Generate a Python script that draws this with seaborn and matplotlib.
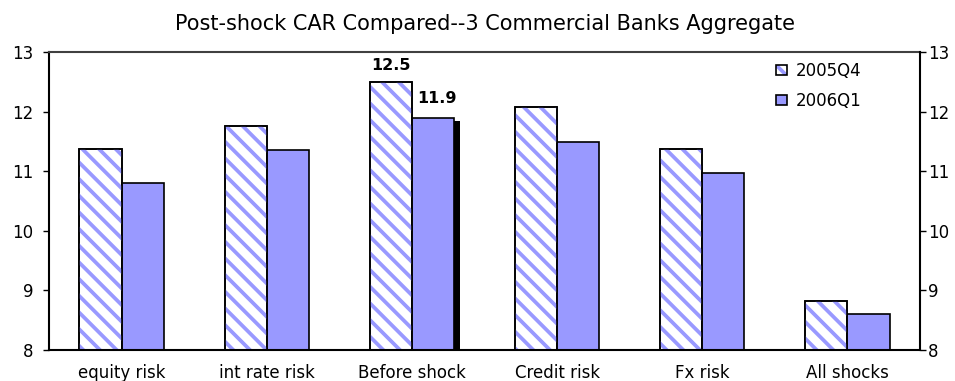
import matplotlib
matplotlib.use("Agg")
import matplotlib.pyplot as plt
import pandas as pd
import seaborn as sns
from matplotlib.patches import Rectangle, Patch
from matplotlib import patheffects as pe
from matplotlib.legend_handler import HandlerTuple

# Capital adequacy ratio after each shock, two quarters
categories = ["equity risk", "int rate risk", "Before shock", "Credit risk", "Fx risk", "All shocks"]
car_2005q4 = [11.37, 11.75, 12.5, 12.07, 11.37, 8.83]
car_2006q1 = [10.80, 11.35, 11.9, 11.49, 10.97, 8.60]
series = ["2005Q4", "2006Q1"]
y_ticks = [8, 9, 10, 11, 12, 13]
labelled_category = "Before shock"
title = "Post-shock CAR Compared--3 Commercial Banks Aggregate"

HATCH = "#9999FF"
SOLID = "#9999FF"

sns.set_theme(style="white")
plt.rcParams["font.family"] = ["DejaVu Sans"]
plt.rcParams["hatch.linewidth"] = 2.7
plt.rcParams["text.color"] = "black"
plt.rcParams["xtick.color"] = "black"
plt.rcParams["ytick.color"] = "black"

df = pd.DataFrame({
    "category": categories * 2,
    "series": [series[0]] * len(categories) + [series[1]] * len(categories),
    "car": car_2005q4 + car_2006q1,
})

fig = plt.figure(figsize=(9.55, 3.81), dpi=100)
ax = fig.add_axes([49 / 955, 1 - 350 / 381, 871 / 955, 298 / 381])

sns.barplot(data=df, x="category", y="car", hue="series", order=categories,
            hue_order=series, palette=["white", SOLID], saturation=1,
            width=0.58, gap=0, edgecolor="black", linewidth=1.2,
            errorbar=None, legend=False, ax=ax)

# Diagonal hatching for the first quarter, drawn as an overlay with its own colour
for bar in ax.containers[0]:
    x, y = bar.get_xy()
    w, h = bar.get_width(), bar.get_height()
    z = bar.get_zorder()
    ax.add_patch(Rectangle((x, y), w, h, facecolor="none", edgecolor=HATCH,
                           hatch="\\\\", linewidth=0, zorder=z + 0.01))
    ax.add_patch(Rectangle((x, y), w, h, facecolor="none", edgecolor="black",
                           linewidth=1.2, zorder=z + 0.02))

idx = categories.index(labelled_category)
# Drop shadow on the highlighted second-quarter bar
ax.containers[1][idx].set_path_effects([
    pe.SimplePatchShadow(offset=(4, -2.2), shadow_rgbFace="black", alpha=1.0),
    pe.Normal(),
])

# Value labels for the baseline category
b0 = ax.containers[0][idx]
b1 = ax.containers[1][idx]
ax.annotate(f"{car_2005q4[idx]:.1f}", (b0.get_x() + b0.get_width() / 2, car_2005q4[idx]),
            xytext=(0, 6.5), textcoords="offset points", ha="center", va="bottom",
            fontsize=11.5, fontweight="bold", zorder=5)
ax.annotate(f"{car_2006q1[idx]:.1f}", (b1.get_x() + b1.get_width() / 2, car_2006q1[idx]),
            xytext=(3, 8), textcoords="offset points", ha="center", va="bottom",
            fontsize=11.5, fontweight="bold", zorder=5)

ax.set_xlim(-0.5, len(categories) - 0.5)
ax.set_ylim(y_ticks[0], y_ticks[-1])
ax.set_yticks(y_ticks)
ax.set_xlabel("")
ax.set_ylabel("")
ax.grid(False)
ax.tick_params(axis="y", left=True, direction="out", length=4.3, width=1.0,
               pad=7, labelsize=12)
ax.tick_params(axis="x", bottom=False, length=0, pad=10, labelsize=12)

for side in ["left", "bottom"]:
    ax.spines[side].set_color("black")
    ax.spines[side].set_linewidth(1.5)
ax.spines["top"].set_color("#404040")
ax.spines["top"].set_linewidth(1.5)
ax.spines["right"].set_visible(False)

ax2 = ax.twinx()
ax2.set_ylim(y_ticks[0], y_ticks[-1])
ax2.set_yticks(y_ticks)
ax2.tick_params(axis="y", right=True, direction="out", length=4.3, width=1.0,
                pad=1.5, labelsize=12)
for side in ["left", "top", "bottom"]:
    ax2.spines[side].set_visible(False)
ax2.spines["right"].set_color("black")
ax2.spines["right"].set_linewidth(1.5)
ax2.grid(False)

ax.set_title(title, fontsize=15, pad=16)

handles = [
    (Patch(facecolor="white", edgecolor=HATCH, hatch="\\\\\\", linewidth=0),
     Patch(facecolor="none", edgecolor="black", linewidth=1.2)),
    Patch(facecolor=SOLID, edgecolor="black", linewidth=1.2),
]
ax.legend(handles=handles, labels=series,
          handler_map={tuple: HandlerTuple(ndivide=1, pad=0)},
          loc="upper left", bbox_to_anchor=(0.8347, 0.966), frameon=False,
          fontsize=12, handlelength=0.66, handleheight=0.5, handletextpad=0.55,
          labelspacing=0.7, borderpad=0, borderaxespad=0)

fig.savefig("out.png", dpi=100)
